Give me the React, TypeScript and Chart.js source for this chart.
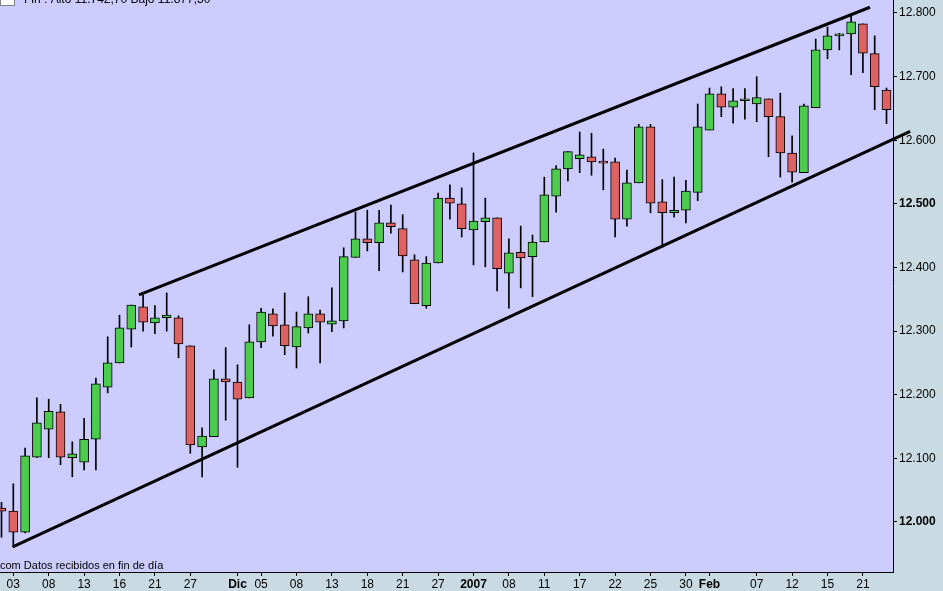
import React, { useEffect, useRef } from 'react';
import { Chart, registerables } from 'chart.js';

Chart.register(...registerables);

// Daily OHLC (index 0 = 2 Nov 2006)
const opens = [
  12022, 12017, 11984, 12102, 12146, 12173, 12101, 12094, 12130, 12212,
  12250, 12303, 12338, 12313, 12321, 12321, 12277, 12118, 12134, 12225,
  12220, 12195, 12283, 12327, 12310, 12275, 12305, 12327, 12311, 12316,
  12416, 12445, 12439, 12470, 12461, 12412, 12340, 12407, 12509, 12500,
  12459, 12472, 12478, 12391, 12424, 12417, 12440, 12512, 12555, 12571,
  12574, 12567, 12566, 12476, 12533, 12621, 12503, 12486, 12490, 12518,
  12616, 12673, 12652, 12662, 12657, 12665, 12637, 12580, 12549, 12651,
  12742, 12764, 12767, 12783, 12736, 12679,
];
const highs = [
  12031, 12060, 12116, 12195, 12193, 12185, 12126, 12163, 12226, 12291,
  12325, 12341, 12357, 12340, 12360, 12324, 12277, 12148, 12239, 12274,
  12247, 12310, 12336, 12335, 12360, 12330, 12354, 12333, 12368, 12431,
  12487, 12490, 12490, 12498, 12483, 12420, 12417, 12517, 12530, 12525,
  12580, 12509, 12478, 12445, 12465, 12451, 12542, 12560, 12582, 12613,
  12611, 12586, 12572, 12553, 12625, 12625, 12538, 12542, 12537, 12657,
  12682, 12684, 12681, 12681, 12700, 12665, 12674, 12607, 12657, 12759,
  12778, 12768, 12797, 12783, 12764, 12682,
];
const lows = [
  11976, 11961, 11983, 12101, 12101, 12090, 12071, 12082, 12082, 12203,
  12250, 12275, 12300, 12296, 12300, 12258, 12108, 12071, 12134, 12160,
  12086, 12195, 12274, 12292, 12263, 12242, 12297, 12250, 12299, 12305,
  12416, 12426, 12395, 12454, 12393, 12343, 12336, 12407, 12476, 12448,
  12404, 12401, 12363, 12336, 12368, 12354, 12440, 12487, 12536, 12549,
  12545, 12522, 12448, 12465, 12533, 12486, 12431, 12479, 12470, 12505,
  12616, 12637, 12627, 12633, 12629, 12574, 12542, 12534, 12549, 12651,
  12728, 12742, 12703, 12706, 12648, 12626,
];
const closes = [
  12017, 11984, 12104, 12156, 12174, 12102, 12107, 12130, 12217, 12250,
  12305, 12341, 12314, 12321, 12325, 12280, 12121, 12135, 12225, 12220,
  12193, 12283, 12330, 12308, 12277, 12307, 12327, 12314, 12316, 12417,
  12445, 12439, 12470, 12464, 12418, 12343, 12407, 12509, 12501, 12461,
  12473, 12478, 12398, 12423, 12415, 12440, 12514, 12555, 12582, 12577,
  12566, 12564, 12476, 12533, 12621, 12501, 12486, 12490, 12520, 12621,
  12673, 12652, 12662, 12665, 12667, 12637, 12580, 12550, 12654, 12742,
  12764, 12767, 12786, 12737, 12684, 12648,
];

const tickIndex = [1, 4, 7, 10, 13, 16, 20, 22, 25, 28, 31, 34, 37, 40, 43, 46, 49, 52, 55, 58, 60, 64, 67, 70, 73];
const tickLabels = ['03', '08', '13', '16', '21', '27', 'Dic', '05', '08', '13', '18', '21', '27', '2007', '08', '11', '17', '22', '25', '30', 'Feb', '07', '12', '15', '21'];
const boldLabels = ['Dic', '2007', 'Feb'];

const yTicks = [12000, 12100, 12200, 12300, 12400, 12500, 12600, 12700, 12800];
const boldY = [12000, 12500];

const upperChannel = [{ x: 11.65, y: 12357 }, { x: 73.6, y: 12809 }];
const lowerChannel = [{ x: 0.95, y: 11961 }, { x: 77.0, y: 12614 }];

const headerText = 'Fin : Alto 11.742,70 Bajo 11.877,30';
const footerText = 'com Datos recibidos en fin de día';

const FONT = "'Liberation Sans', Arial, sans-serif";
const GREEN = '#4ccc4c';
const RED = '#de6262';

export default function App() {
  const ref = useRef<HTMLCanvasElement>(null);

  useEffect(() => {
    if (!ref.current) return;
    const bodies = opens.map((o, i) => ({ x: i, y: [o, closes[i]] }));
    const wicks = opens.map((_, i) => ({ x: i, y: [lows[i], highs[i]] }));
    const bodyColors = opens.map((o, i) => (closes[i] >= o ? GREEN : RED));
    const labelFor = (v: number) => {
      const k = tickIndex.indexOf(v);
      return k >= 0 ? tickLabels[k] : '';
    };

    const bgPlugin = {
      id: 'bg',
      beforeDraw(chart: any) {
        const { ctx, chartArea: a } = chart;
        ctx.save();
        ctx.fillStyle = '#ccccff';
        ctx.fillRect(a.left, a.top, a.right - a.left, a.bottom - a.top);
        ctx.restore();
      },
      afterDraw(chart: any) {
        const { ctx, chartArea: a } = chart;
        ctx.save();
        // header (cut off at top)
        ctx.fillStyle = '#ffffff';
        ctx.fillRect(0, -4, 14, 10);
        ctx.strokeStyle = '#808080';
        ctx.lineWidth = 1;
        ctx.strokeRect(0.5, -4.5, 14, 10);
        ctx.fillStyle = '#000';
        ctx.font = `12px ${FONT}`;
        ctx.textBaseline = 'alphabetic';
        ctx.fillText(headerText, 24, 3);
        ctx.font = `11px ${FONT}`;
        ctx.fillText(footerText, 0, a.bottom - 3);
        ctx.restore();
      },
    };

    const chart = new Chart(ref.current, {
      type: 'bar',
      data: {
        datasets: [
          {
            type: 'line',
            data: upperChannel,
            borderColor: '#000',
            borderWidth: 3,
            pointRadius: 0,
            order: 0,
            clip: false,
          } as any,
          {
            type: 'line',
            data: lowerChannel,
            borderColor: '#000',
            borderWidth: 3,
            pointRadius: 0,
            order: 0,
            clip: false,
          } as any,
          {
            type: 'bar',
            data: bodies,
            backgroundColor: bodyColors,
            borderColor: '#000',
            borderWidth: 1,
            borderSkipped: false,
            barThickness: 9,
            minBarLength: 2,
            grouped: false,
            order: 1,
          } as any,
          {
            type: 'bar',
            data: wicks,
            backgroundColor: '#000',
            borderWidth: 0,
            barThickness: 1,
            grouped: false,
            order: 2,
          } as any,
        ],
      },
      options: {
        animation: false,
        responsive: true,
        maintainAspectRatio: false,
        events: [],
        layout: { padding: 0 },
        plugins: { legend: { display: false }, tooltip: { enabled: false } },
        scales: {
          x: {
            type: 'linear',
            min: -0.127,
            max: 75.55,
            offset: false,
            grid: { display: true, drawOnChartArea: false, drawTicks: true, tickLength: 4, color: '#000', offset: false },
            border: { display: true, color: '#000', width: 1 },
            afterBuildTicks: (scale: any) => {
              scale.ticks = tickIndex.map((v) => ({ value: v }));
            },
            afterFit: (scale: any) => {
              scale.height = 19;
              scale.paddingLeft = 0;
              scale.paddingRight = 0;
            },
            ticks: {
              autoSkip: false,
              maxRotation: 0,
              minRotation: 0,
              padding: 1,
              color: '#000',
              callback: (v: any) => labelFor(Number(v)),
              font: (ctx: any) => {
                const lbl = ctx.tick ? labelFor(ctx.tick.value) : '';
                return { family: FONT, size: 12, weight: boldLabels.includes(lbl) ? 'bold' : 'normal' };
              },
            },
          } as any,
          y: {
            type: 'linear',
            position: 'right',
            min: 11921.4,
            max: 12820.4,
            grid: { display: true, drawOnChartArea: false, drawTicks: true, tickLength: 4, color: '#000' },
            border: { display: true, color: '#000', width: 1 },
            afterBuildTicks: (scale: any) => {
              scale.ticks = yTicks.map((v) => ({ value: v }));
            },
            afterFit: (scale: any) => {
              scale.width = 50;
              scale.paddingTop = 0;
              scale.paddingBottom = 0;
            },
            ticks: {
              padding: 2,
              color: '#000',
              callback: (v: any) => (Number(v) / 1000).toFixed(3),
              font: (ctx: any) => {
                const val = ctx.tick ? ctx.tick.value : 0;
                return { family: FONT, size: 12, weight: boldY.includes(val) ? 'bold' : 'normal' };
              },
            },
          } as any,
        },
      },
      plugins: [bgPlugin],
    });
    return () => chart.destroy();
  }, []);

  return (
    <div
      style={{
        position: 'fixed',
        left: 0,
        top: 0,
        width: 943,
        height: 591,
        background: '#cadae3',
        overflow: 'hidden',
      }}
    >
      <canvas ref={ref} />
    </div>
  );
}
